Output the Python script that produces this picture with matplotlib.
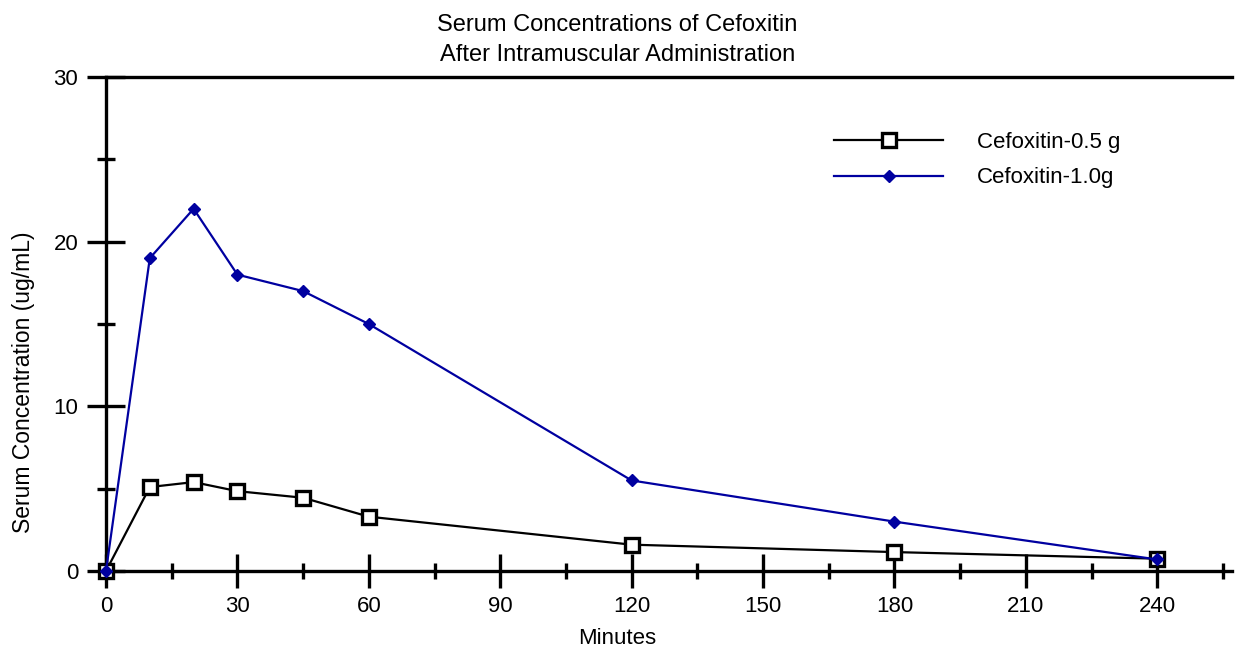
import matplotlib.pyplot as plt
from matplotlib.ticker import MultipleLocator

plt.rcParams["font.family"] = ["Liberation Sans", "DejaVu Sans"]

minutes = [0, 10, 20, 30, 45, 60, 120, 180, 240]
conc_05g = [0, 5.1, 5.4, 4.85, 4.45, 3.3, 1.6, 1.15, 0.75]
conc_10g = [0, 19.0, 22.0, 18.0, 17.0, 15.0, 5.5, 3.0, 0.7]
x_ticks = [0, 30, 60, 90, 120, 150, 180, 210, 240]
y_ticks = [0, 10, 20, 30]

fig = plt.figure(figsize=(12.37, 6.48), dpi=100)
ax = fig.add_axes([0.0857, 0.1188, 0.910, 0.7623])

ax.plot(minutes, conc_05g, color="black", linewidth=1.6, marker="s",
        markersize=10, markerfacecolor="white", markeredgecolor="black",
        markeredgewidth=2.4, label="Cefoxitin-0.5 g", clip_on=False, zorder=3)
ax.plot(minutes, conc_10g, color="#0000a0", linewidth=1.6, marker="D",
        markersize=6, markerfacecolor="#0000a0", markeredgecolor="#0000a0",
        label="Cefoxitin-1.0g", clip_on=False, zorder=4)

ax.set_xlim(0, 257)
ax.set_ylim(0, 30)
ax.set_xticks(x_ticks)
ax.set_yticks(y_ticks)
ax.xaxis.set_minor_locator(MultipleLocator(15))
ax.yaxis.set_minor_locator(MultipleLocator(5))

ax.spines["right"].set_visible(False)
for side in ["left", "bottom", "top"]:
    ax.spines[side].set_linewidth(2.4)

ax.tick_params(axis="x", which="major", direction="inout", length=24, width=2.4,
               labelsize=16, pad=6)
ax.tick_params(axis="x", which="minor", direction="inout", length=11, width=2.4)
ax.tick_params(axis="y", which="major", direction="inout", length=28, width=2.4,
               labelsize=16, pad=6)
ax.tick_params(axis="y", which="minor", direction="inout", length=13, width=2.4)

ax.set_xlabel("Minutes", fontsize=16)
ax.xaxis.set_label_coords(0.454, -0.115)
ax.set_ylabel("Serum Concentration (ug/mL)", fontsize=16.5)
ax.yaxis.set_label_coords(-0.0635, 0.383)
fig.text(0.499, 0.979, "Serum Concentrations of Cefoxitin\nAfter Intramuscular Administration",
         ha="center", va="top", fontsize=17, linespacing=1.5)

ax.legend(loc="upper left", bbox_to_anchor=(0.647, 0.889), frameon=False,
          fontsize=16, handlelength=4.9, handletextpad=1.5, labelspacing=0.65,
          borderpad=0, borderaxespad=0)

fig.savefig("out.png", dpi=100)
